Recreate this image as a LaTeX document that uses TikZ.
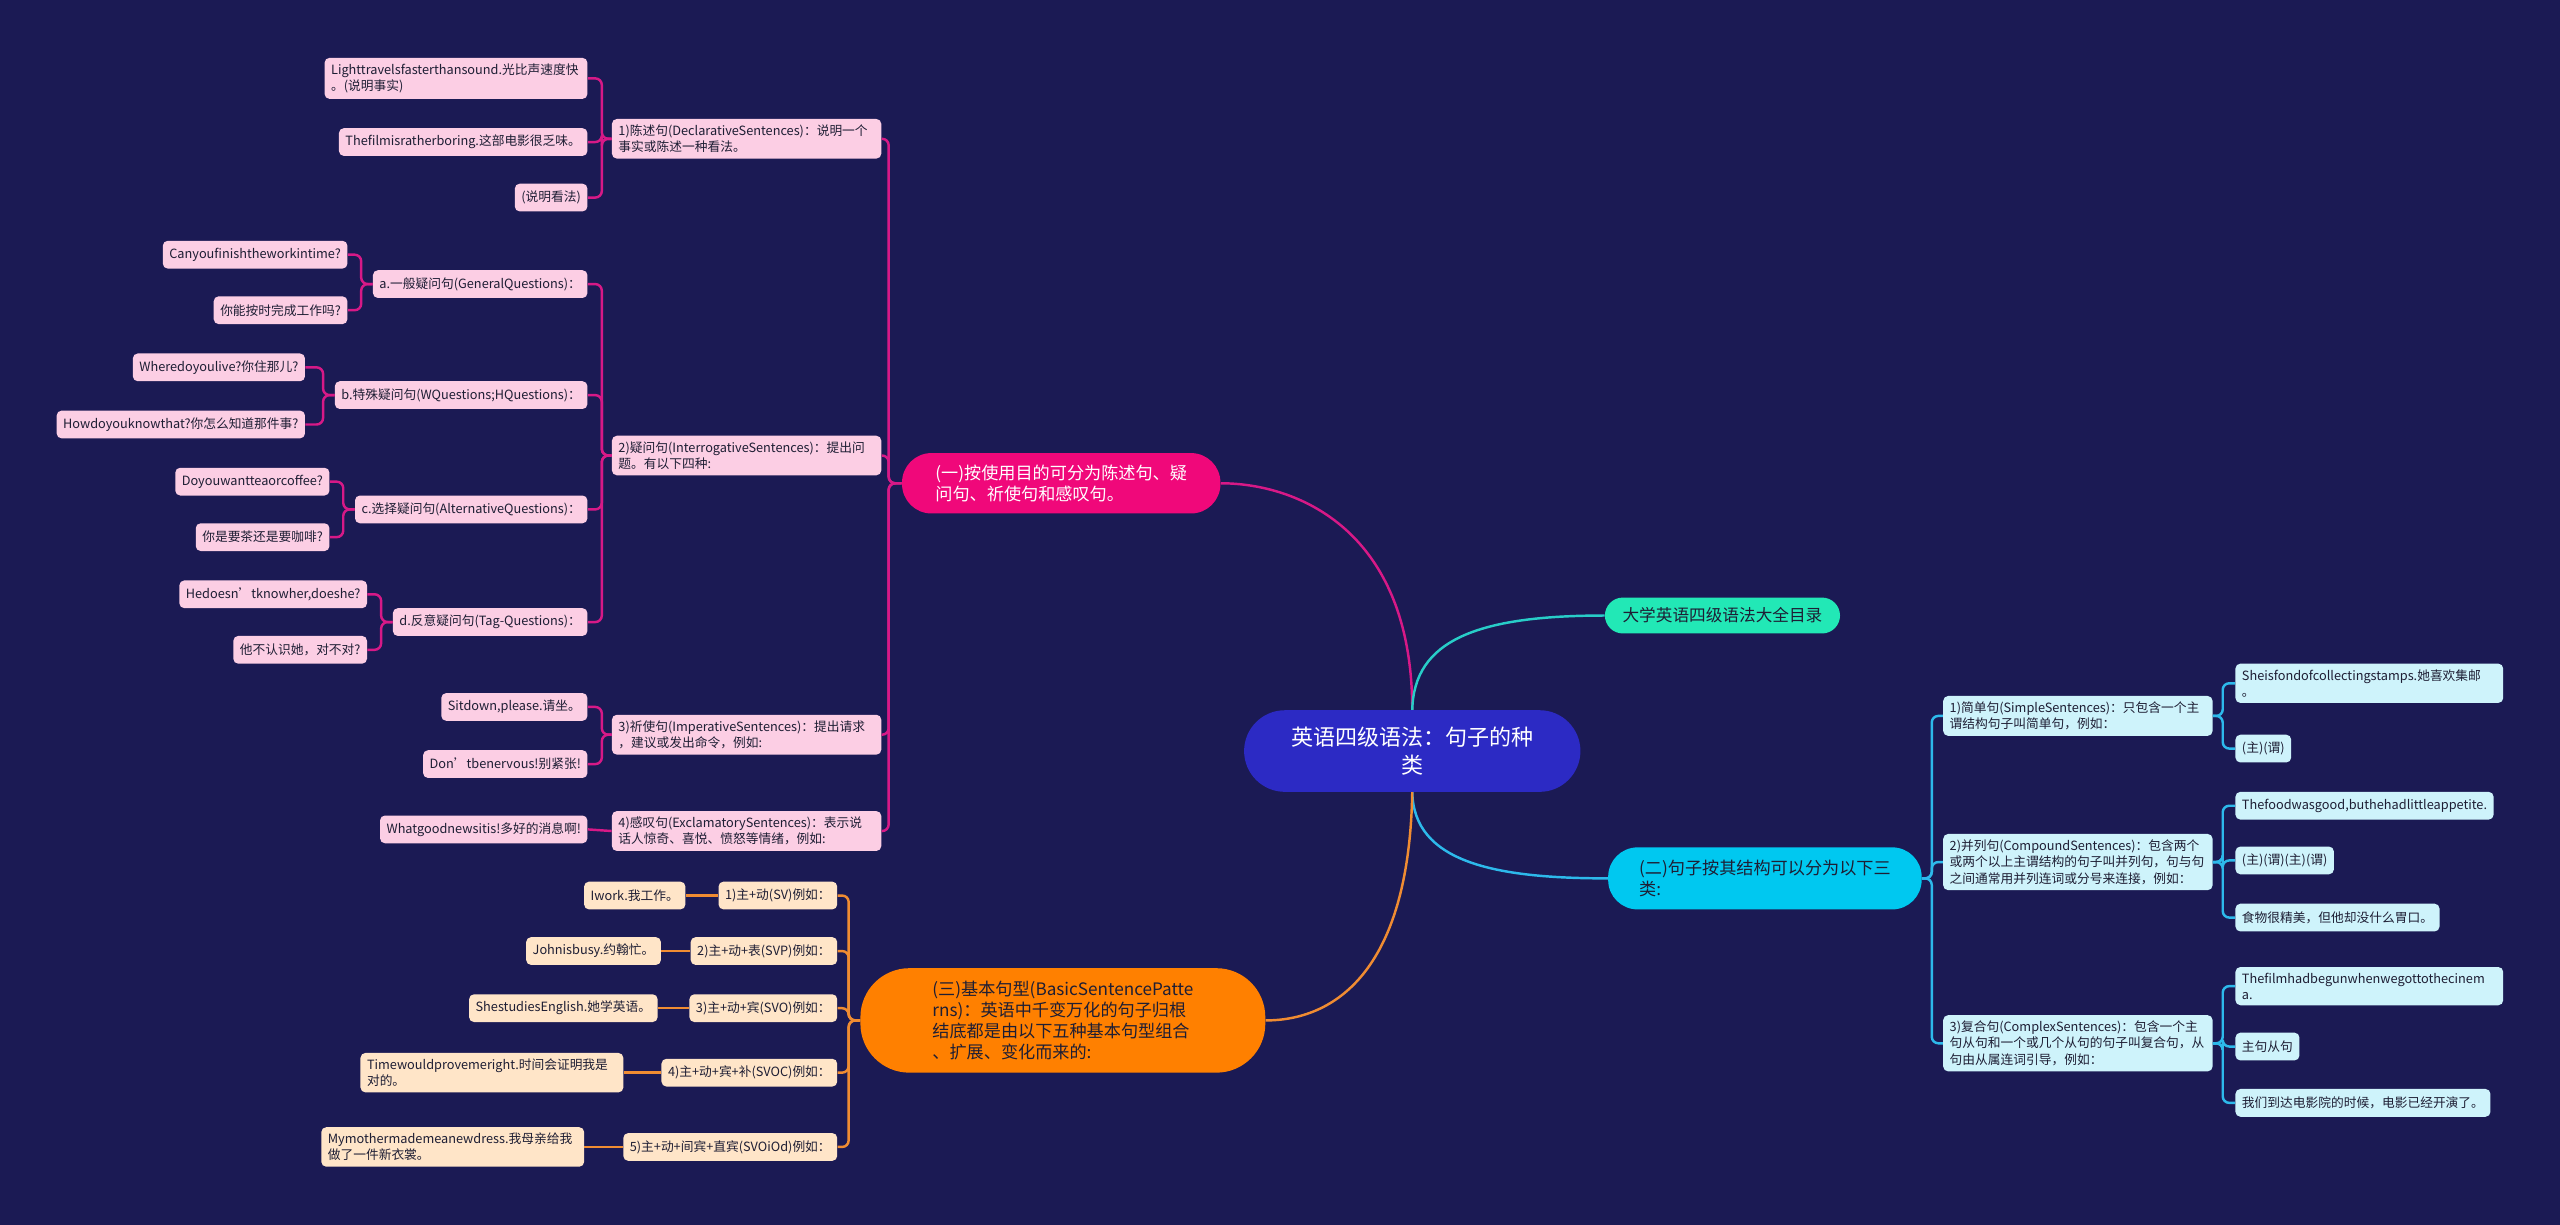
\documentclass[tikz,border=0pt]{standalone}
\usepackage{fontspec}
\setmainfont{Noto Sans CJK SC}
\usepackage{tikz}
\definecolor{bgnavy}{RGB}{27,26,84}
\definecolor{rootblue}{RGB}{44,42,196}
\definecolor{pinkmain}{RGB}{240,8,122}
\definecolor{pinkline}{RGB}{215,25,135}
\definecolor{pinkbox}{RGB}{252,206,228}
\definecolor{tealmain}{RGB}{34,232,182}
\definecolor{tealline}{RGB}{40,205,200}
\definecolor{cyanmain}{RGB}{0,200,240}
\definecolor{cyanline}{RGB}{45,185,235}
\definecolor{cyanbox}{RGB}{206,243,251}
\definecolor{orangemain}{RGB}{255,128,0}
\definecolor{orangeline}{RGB}{240,140,50}
\definecolor{peachbox}{RGB}{255,229,200}
\definecolor{inkdark}{RGB}{30,30,52}

\tikzset{
  leaf/.style={rounded corners=3, inner xsep=4, inner ysep=3.5, minimum height=17,
    font=\fontsize{7.8}{10}\selectfont, text=inkdark, align=left},
  pinkleaf/.style={leaf, fill=pinkbox},
  peachleaf/.style={leaf, fill=peachbox},
  cyanleaf/.style={leaf, fill=cyanbox},
  pill/.style={rounded corners=18, inner xsep=16, inner ysep=5, align=left,
    font=\fontsize{10.5}{13}\selectfont, text=inkdark},
  rootnode/.style={rounded corners=25, fill=rootblue, text=white, align=center,
    minimum width=206, minimum height=50, font=\fontsize{13.5}{17}\selectfont},
  pinkwire/.style={draw=pinkline, line width=1.5, rounded corners=4},
  tealwire/.style={draw=tealline, line width=1.5},
  cyanwire/.style={draw=cyanline, line width=1.5, rounded corners=4},
  orangewire/.style={draw=orangeline, line width=1.5, rounded corners=4}
}

\begin{document}
\begin{tikzpicture}[x=1pt, y=-1pt]

% Fond
\fill[bgnavy] (0,0) rectangle (1568,750);
\useasboundingbox (0,0) rectangle (1568,750);

% Racine
\node[rootnode] (root) at (865,460) {英语四级语法：句子的种\\类};

% Branches
\node[pill, fill=pinkmain, text=white, minimum width=195, minimum height=37] (br1) at (650,296)
  {(一)按使用目的可分为陈述句、疑\\问句、祈使句和感叹句。};
\node[pill, fill=tealmain, rounded corners=11, minimum width=144, minimum height=22,
  inner xsep=9, inner ysep=3, font=\fontsize{10.2}{12}\selectfont] (br2) at (1055,377)
  {大学英语四级语法大全目录};
\node[pill, fill=cyanmain, minimum width=192, minimum height=38] (br3) at (1081,538)
  {(二)句子按其结构可以分为以下三\\类:};
\node[pill, fill=orangemain, rounded corners=30, minimum width=248, minimum height=64] (br4) at (651,625)
  {(三)基本句型(BasicSentencePatte\\rns)：英语中千变万化的句子归根\\结底都是由以下五种基本句型组合\\、扩展、变化而来的:};

\draw[pinkwire] (root.north) .. controls (865,325) and (795,296) .. (br1.east);
\draw[tealwire] (root.north) .. controls (866,392) and (905,377) .. (br2.west);
\draw[cyanwire] (root.south) .. controls (866,528) and (915,538) .. (br3.west);
\draw[orangewire] (root.south) .. controls (863,598) and (815,625) .. (br4.east);

% Types de phrases (rose)
\node[pinkleaf, anchor=east, text width=157] (dec) at (540,85)
  {1)陈述句(DeclarativeSentences)：说明一个\\事实或陈述一种看法。};
\node[pinkleaf, anchor=east, text width=157] (int) at (540,279)
  {2)疑问句(InterrogativeSentences)：提出问\\题。有以下四种:};
\node[pinkleaf, anchor=east, text width=157] (imp) at (540,450)
  {3)祈使句(ImperativeSentences)：提出请求\\，建议或发出命令，例如:};
\node[pinkleaf, anchor=east, text width=157] (exc) at (540,509)
  {4)感叹句(ExclamatorySentences)：表示说\\话人惊奇、喜悦、愤怒等情绪，例如:};

\node[pinkleaf, anchor=east, text width=153] (dec1) at (360,48)
  {Lighttravelsfasterthansound.光比声速度快\\。(说明事实)};
\node[pinkleaf, anchor=east] (dec2) at (360,87) {Thefilmisratherboring.这部电影很乏味。};
\node[pinkleaf, anchor=east] (dec3) at (360,121) {(说明看法)};

\node[pinkleaf, anchor=east] (qa) at (360,174) {a.一般疑问句(GeneralQuestions)：};
\node[pinkleaf, anchor=east] (qb) at (360,242) {b.特殊疑问句(WQuestions;HQuestions)：};
\node[pinkleaf, anchor=east] (qc) at (360,312) {c.选择疑问句(AlternativeQuestions)：};
\node[pinkleaf, anchor=east] (qd) at (360,381) {d.反意疑问句(Tag-Questions)：};

\node[pinkleaf, anchor=east] (qa1) at (213,156) {Canyoufinishtheworkintime?};
\node[pinkleaf, anchor=east] (qa2) at (213,190) {你能按时完成工作吗?};
\node[pinkleaf, anchor=east] (qb1) at (187,225) {Wheredoyoulive?你住那儿?};
\node[pinkleaf, anchor=east] (qb2) at (187,260) {Howdoyouknowthat?你怎么知道那件事?};
\node[pinkleaf, anchor=east] (qc1) at (202,295) {Doyouwantteaorcoffee?};
\node[pinkleaf, anchor=east] (qc2) at (202,329) {你是要茶还是要咖啡?};
\node[pinkleaf, anchor=east] (qd1) at (225,364) {Hedoesn'tknowher,doeshe?};
\node[pinkleaf, anchor=east] (qd2) at (225,398) {他不认识她，对不对?};

\node[pinkleaf, anchor=east] (imp1) at (360,433) {Sitdown,please.请坐。};
\node[pinkleaf, anchor=east] (imp2) at (360,468) {Don'tbenervous!别紧张!};
\node[pinkleaf, anchor=east] (exc1) at (360,508) {Whatgoodnewsitis!多好的消息啊!};

\foreach \n in {dec,int,imp,exc}
  \draw[pinkwire] (br1.west) -- ++(-8,0) |- (\n.east);
\foreach \n in {dec1,dec2,dec3}
  \draw[pinkwire] (dec.west) -- ++(-6,0) |- (\n.east);
\foreach \n in {qa,qb,qc,qd}
  \draw[pinkwire] (int.west) -- ++(-6,0) |- (\n.east);
\foreach \n in {qa1,qa2}
  \draw[pinkwire] (qa.west) -- ++(-7,0) |- (\n.east);
\foreach \n in {qb1,qb2}
  \draw[pinkwire] (qb.west) -- ++(-7,0) |- (\n.east);
\foreach \n in {qc1,qc2}
  \draw[pinkwire] (qc.west) -- ++(-7,0) |- (\n.east);
\foreach \n in {qd1,qd2}
  \draw[pinkwire] (qd.west) -- ++(-7,0) |- (\n.east);
\foreach \n in {imp1,imp2}
  \draw[pinkwire] (imp.west) -- ++(-6,0) |- (\n.east);
\draw[pinkwire] (exc.west) -- (exc1.east);

% Structures (cyan)
\node[cyanleaf, anchor=west, text width=157] (simp) at (1190,438.5)
  {1)简单句(SimpleSentences)：只包含一个主\\谓结构句子叫简单句，例如：};
\node[cyanleaf, anchor=west, text width=157] (comp) at (1190,528)
  {2)并列句(CompoundSentences)：包含两个\\或两个以上主谓结构的句子叫并列句，句与句\\之间通常用并列连词或分号来连接，例如：};
\node[cyanleaf, anchor=west, text width=157] (cplx) at (1190,639)
  {3)复合句(ComplexSentences)：包含一个主\\句从句和一个或几个从句的句子叫复合句，从\\句由从属连词引导，例如：};

\node[cyanleaf, anchor=west, text width=156] (simp1) at (1369,418.5)
  {Sheisfondofcollectingstamps.她喜欢集邮\\。};
\node[cyanleaf, anchor=west] (simp2) at (1369,458.5) {(主)(谓)};
\node[cyanleaf, anchor=west] (comp1) at (1369,493.5) {Thefoodwasgood,buthehadlittleappetite.};
\node[cyanleaf, anchor=west] (comp2) at (1369,527) {(主)(谓)(主)(谓)};
\node[cyanleaf, anchor=west] (comp3) at (1369,562) {食物很精美，但他却没什么胃口。};
\node[cyanleaf, anchor=west, text width=156] (cplx1) at (1369,604)
  {Thefilmhadbegunwhenwegottothecinem\\a.};
\node[cyanleaf, anchor=west] (cplx2) at (1369,641) {主句从句};
\node[cyanleaf, anchor=west] (cplx3) at (1369,675.5) {我们到达电影院的时候，电影已经开演了。};

\foreach \n in {simp,comp,cplx}
  \draw[cyanwire] (br3.east) -- ++(6,0) |- (\n.west);
\foreach \n in {simp1,simp2}
  \draw[cyanwire] (simp.east) -- ++(6,0) |- (\n.west);
\foreach \n in {comp1,comp2,comp3}
  \draw[cyanwire] (comp.east) -- ++(6,0) |- (\n.west);
\foreach \n in {cplx1,cplx2,cplx3}
  \draw[cyanwire] (cplx.east) -- ++(6,0) |- (\n.west);

% Phrases de base (orange)
\node[peachleaf, anchor=east] (sv) at (513,548.5) {1)主+动(SV)例如：};
\node[peachleaf, anchor=east] (svp) at (513,582.5) {2)主+动+表(SVP)例如：};
\node[peachleaf, anchor=east] (svo) at (513,617.5) {3)主+动+宾(SVO)例如：};
\node[peachleaf, anchor=east] (svoc) at (513,657) {4)主+动+宾+补(SVOC)例如：};
\node[peachleaf, anchor=east] (svoo) at (513,702.5) {5)主+动+间宾+直宾(SVOiOd)例如：};

\node[peachleaf, anchor=east] (sv1) at (420,548.5) {Iwork.我工作。};
\node[peachleaf, anchor=east] (svp1) at (405,582.5) {Johnisbusy.约翰忙。};
\node[peachleaf, anchor=east] (svo1) at (403,617.5) {ShestudiesEnglish.她学英语。};
\node[peachleaf, anchor=east, text width=153] (svoc1) at (382,657)
  {Timewouldprovemeright.时间会证明我是\\对的。};
\node[peachleaf, anchor=east, text width=153] (svoo1) at (358,702.5)
  {Mymothermademeanewdress.我母亲给我\\做了一件新衣裳。};

\foreach \n in {sv,svp,svo,svoc,svoo}
  \draw[orangewire] (br4.west) -- ++(-7,0) |- (\n.east);
\foreach \n in {sv,svp,svo,svoc,svoo}
  \draw[orangewire] (\n.west) -- (\n1.east);

\end{tikzpicture}
\end{document}
